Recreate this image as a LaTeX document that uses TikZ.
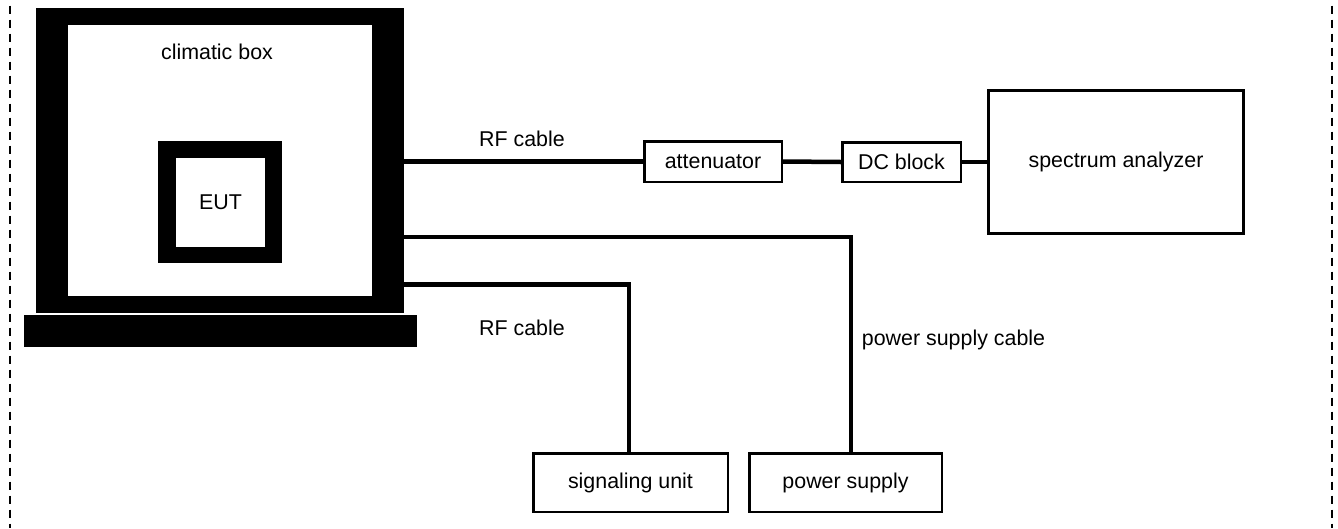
\documentclass[tikz,border=0pt]{standalone}
\usepackage{fontspec}
\setmainfont{Liberation Sans}
\begin{document}
\begin{tikzpicture}[x=1pt,y=-1pt,
  txt/.style={font=\fontsize{21.4}{25}\selectfont, inner sep=0pt},
  unit/.style={draw, line width=2.5pt, fill=white, txt},
  solidblk/.style={fill=black, draw=none, inner sep=0pt},
  holeblk/.style={fill=white, draw=none, inner sep=0pt, txt},
  cable/.style={line width=4.5pt},
  frameline/.style={line width=2.5pt, dash pattern=on 8.5pt off 5.5pt, dash phase=8.5pt}]
\useasboundingbox (0,0) rectangle (1338,528);

% outer dashed frame sides
\draw[frameline] (10,0) -- (10,528);
\draw[frameline] (1332,0) -- (1332,528);

% climatic box
\node[solidblk, minimum width=368pt, minimum height=305pt] (cbox) at (220,160.5) {};
\node[holeblk, minimum width=304pt, minimum height=271pt] (cinner) at (220,160.5) {};
\node[solidblk, minimum width=393pt, minimum height=32pt] (base) at (220.5,331) {};
\node[txt] (clabel) at (217,52) {climatic box};

% EUT
\node[solidblk, minimum width=124pt, minimum height=122pt] (eutout) at (220,202) {};
\node[holeblk, minimum width=89pt, minimum height=89pt] (eut) at (220.5,202.5) {EUT};

% units
\node[unit, minimum width=137.5pt, minimum height=40.5pt] (att) at (713,161.5) {attenuator};
\node[unit, minimum width=118.5pt, minimum height=39.5pt] (dcb) at (901.5,162) {DC block};
\node[unit, line width=3pt, minimum width=255pt, minimum height=143pt] (sa) at (1116,162) {spectrum analyzer};
\node[unit, minimum width=194.5pt, minimum height=58.5pt] (sig) at (630.5,482.5) {signaling unit};
\node[unit, minimum width=192.5pt, minimum height=58.5pt] (ps) at (845.5,482.5) {power supply};

% cables
\coordinate (pwrbend) at (851,237);
\coordinate (sigbend) at (629,284.5);
\draw[cable] (cbox.east |- att.west) -- (att.west);
\draw[cable] (att.east) -- (dcb.west);
\draw[cable] (dcb.east) -- (sa.west);
\draw[cable] (cbox.east |- pwrbend) -- (pwrbend) -- (pwrbend |- ps.north);
\draw[cable] (cbox.east |- sigbend) -- (sigbend) -- (sigbend |- sig.north);

% cable labels
\node[txt] (rf1) at (522,139) {RF cable};
\node[txt] (rf2) at (522,328) {RF cable};
\node[txt] (pcab) at (953.5,340) {power supply cable};
\end{tikzpicture}
\end{document}
